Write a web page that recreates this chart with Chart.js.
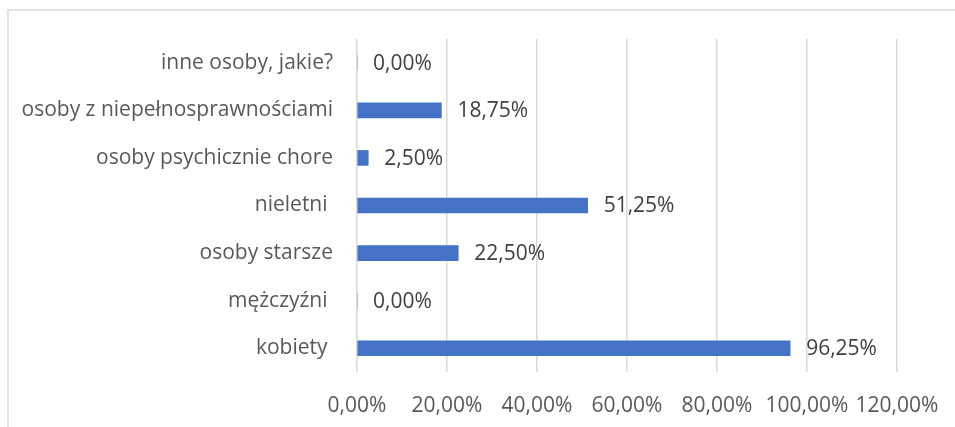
<!DOCTYPE html>
<html>
<head>
<meta charset="utf-8">
<script src="https://cdn.jsdelivr.net/npm/chart.js@4/dist/chart.umd.min.js"></script>
<style>
html,body{margin:0;padding:0;background:#fff;}
#wrap{width:955px;height:427px;position:relative;}
</style>
</head>
<body>
<div id="wrap"><canvas id="c" width="955" height="427"></canvas></div>
<script>
const categories = ["inne osoby, jakie?", "osoby z niepełnosprawnościami", "osoby psychicznie chore", "nieletni ", "osoby starsze", "mężczyźni ", "kobiety "];
const values = [0, 18.75, 2.5, 51.25, 22.5, 0, 96.25];
const xTicks = [0, 20, 40, 60, 80, 100, 120];

const fmt = v => v.toFixed(2).replace('.', ',') + '%';
const FONT = '"Open Sans", sans-serif';
const FSIZE = 21;

const frame = {
  id: 'frame',
  beforeDraw(chart) {
    const ctx = chart.ctx;
    ctx.save();
    ctx.strokeStyle = '#d9d9d9';
    ctx.lineWidth = 1.5;
    ctx.beginPath();
    ctx.moveTo(8, 427);
    ctx.lineTo(8, 10);
    ctx.lineTo(955, 10);
    ctx.stroke();
    ctx.restore();
  }
};

const labels = {
  id: 'vlabels',
  afterDatasetsDraw(chart) {
    const ctx = chart.ctx;
    const meta = chart.getDatasetMeta(0);
    ctx.save();
    ctx.font = FSIZE + 'px ' + FONT;
    ctx.fillStyle = '#404040';
    ctx.textAlign = 'left';
    ctx.textBaseline = 'middle';
    meta.data.forEach((bar, i) => {
      ctx.fillText(fmt(values[i]), bar.x + 16, bar.y + 1);
    });
    ctx.restore();
  }
};

new Chart(document.getElementById('c'), {
  type: 'bar',
  data: {
    labels: categories,
    datasets: [{
      data: values,
      backgroundColor: '#4472C4',
      borderWidth: 0,
      barThickness: 15
    }]
  },
  options: {
    indexAxis: 'y',
    responsive: false,
    animation: false,
    layout: { padding: { left: 0, right: 58, top: 39, bottom: 0 } },
    plugins: { legend: { display: false }, tooltip: { enabled: false } },
    scales: {
      x: {
        min: 0, max: 120,
        afterBuildTicks(scale) { scale.ticks = xTicks.map(v => ({ value: v })); },
        afterFit(scale) { scale.height = 55; scale.paddingLeft = 0; scale.paddingRight = 0; },
        grid: { color: '#d9d9d9', lineWidth: 1.5, drawTicks: false },
        border: { display: false },
        ticks: {
          padding: 21,
          color: '#595959',
          font: { family: FONT, size: FSIZE },
          callback: v => fmt(v),
          maxRotation: 0
        }
      },
      y: {
        afterFit(scale) { scale.width = 357; scale.paddingTop = 0; scale.paddingBottom = 0; },
        grid: { display: false, drawTicks: false },
        border: { display: false },
        ticks: {
          padding: 24,
          color: '#595959',
          font: { family: FONT, size: FSIZE }
        }
      }
    }
  },
  plugins: [frame, labels]
});
</script>
</body>
</html>
